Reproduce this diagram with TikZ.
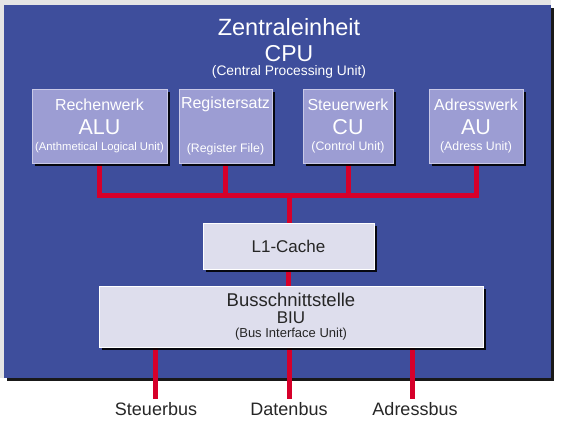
\documentclass[tikz,border=0pt]{standalone}
\usepackage{fontspec}
\setmainfont{Liberation Sans}
\usepackage{xcolor}
\usetikzlibrary{shadows,backgrounds}
\definecolor{cpuc}{RGB}{62,78,156}
\definecolor{unitc}{RGB}{156,157,211}
\definecolor{cachec}{RGB}{222,222,237}
\definecolor{busc}{RGB}{214,0,42}
\newcommand{\fs}[2]{{\fontsize{#1}{#1}\selectfont #2}}

\begin{document}
\begin{tikzpicture}[x=1pt,y=-1pt,
  unit/.style={fill=unitc,draw=unitc!55!white,line width=0.6pt,text=white,align=center,inner sep=0pt,minimum height=74pt,font=\fontsize{10}{15.5}\selectfont,drop shadow={shadow xshift=2.5pt,shadow yshift=-2.5pt,fill=black,opacity=0.9}},
  lightbox/.style={unit,fill=cachec,draw=white,text=black!85,font=\fontsize{10}{14}\selectfont},
  bus/.style={busc,line width=5pt},
  buslabel/.style={font=\fontsize{18}{18}\selectfont,text=black!85,inner sep=3pt}]
\useasboundingbox (0,0) rectangle (561,432);
\begin{scope}[on background layer]
\fill[gray!20] (0,0) rectangle (551,378);
\fill[black!90] (7,8) rectangle (554,381);
\fill[cpuc] (4,5) rectangle (551,378);
\end{scope}
\node[text=white,align=center,inner sep=0pt,font=\fontsize{10}{14}\selectfont] (title) at (289,48.5) {\fs{23.5}{Zentraleinheit}\\[9pt]\fs{23}{CPU}\\\fs{13.8}{(Central Processing Unit)}};
% Rechenwerk, Register, Steuerwerk, Adresswerk
\node[unit,minimum width=135pt] (alu) at (99.5,126) {\fs{16}{Rechenwerk}\\[8.5pt]\fs{21.5}{ALU}\\\fs{11.3}{(Anthmetical Logical Unit)}};
\node[unit,minimum width=93pt] (reg) at (225.5,126) {\fs{16}{Registersatz}\\[8.5pt]\fs{21.5}{\vphantom{AU}}\\\fs{12.3}{(Register File)}};
\node[unit,minimum width=90pt] (cu) at (348,126) {\fs{16}{Steuerwerk}\\[8.5pt]\fs{21.5}{CU}\\\fs{12.3}{(Control Unit)}};
\node[unit,minimum width=94pt] (au) at (476,126) {\fs{16}{Adresswerk}\\[8.5pt]\fs{21.5}{AU}\\\fs{12.3}{(Adress Unit)}};
\node[lightbox,minimum width=171pt,minimum height=46pt] (cache) at (288.5,246.5) {\fs{17}{L1-Cache}};
\node[lightbox,minimum width=384pt,minimum height=61pt] (biu) at (291,316.5) {\fs{18.5}{Busschnittstelle}\\[3pt]\fs{17}{BIU}\\\fs{13}{(Bus Interface Unit)}};
\node[buslabel] (sbus) at (156,409) {Steuerbus};
\node[buslabel] (dbus) at (289,409) {Datenbus};
\node[buslabel] (abus) at (415,409) {Adressbus};
\coordinate (hub) at (289,195);
\begin{scope}[on background layer]
\draw[bus] (alu.south) |- (hub) -| (au.south);
\draw[bus] (reg.south) -- (reg.south |- hub); \draw[bus] (cu.south) -- (cu.south |- hub);
\draw[bus] (hub) -- (hub |- cache.north);
\draw[bus] (cache.south) -- (cache.south |- biu.north);
\foreach \b/\x in {sbus/155,dbus/289,abus/412}{ \draw[bus] (\x,0 |- biu.south) -- (\x,0 |- \b.north); }
\end{scope}
\end{tikzpicture}
\end{document}
